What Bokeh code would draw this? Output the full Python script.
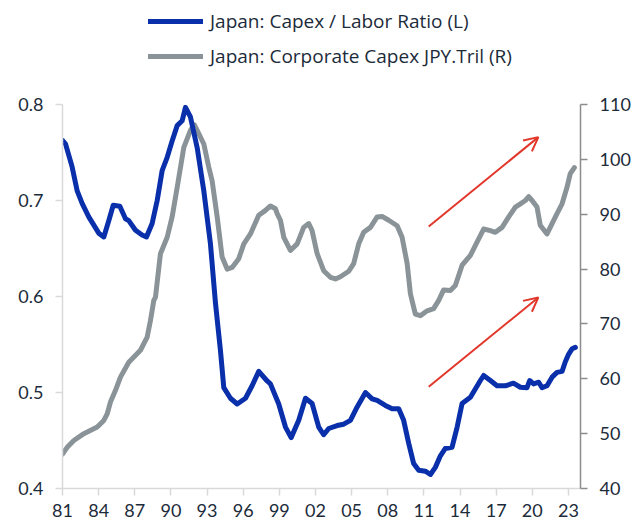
from bokeh.plotting import figure
from bokeh.layouts import column
from bokeh.models import (Range1d, LinearAxis, Legend, LegendItem, Arrow, OpenHead,
                          FixedTicker)
from bokeh.embed import file_html
from bokeh.resources import INLINE

# ---------------- data ----------------
ratio_years = [1981.00, 1981.25, 1981.80, 1982.22, 1982.63, 1983.18, 1984.01, 1984.43, 1984.84,
               1985.21, 1985.76, 1986.23, 1986.50, 1987.06, 1987.61, 1987.97, 1988.44, 1988.86,
               1989.27, 1989.69, 1990.10, 1990.52, 1990.93, 1991.21, 1991.62, 1992.18, 1992.73,
               1993.28, 1993.70, 1994.11, 1994.39, 1994.94, 1995.50, 1996.19, 1996.74, 1997.29,
               1997.99, 1998.26, 1998.95, 1999.51, 1999.98, 2000.61, 2001.17, 2001.72, 2002.27,
               2002.68, 2003.10, 2003.80, 2004.34, 2004.90, 2005.46, 2006.15, 2006.70, 2007.12,
               2007.80, 2008.36, 2008.91, 2009.32, 2009.74, 2010.15, 2010.57, 2011.12, 2011.54,
               2011.95, 2012.37, 2012.78, 2013.34, 2013.76, 2014.17, 2014.86, 2015.69, 2015.96,
               2016.52, 2017.07, 2017.76, 2018.43, 2019.01, 2019.56, 2019.78, 2020.11, 2020.53,
               2020.81, 2021.22, 2021.64, 2022.05, 2022.47, 2022.74, 2023.02, 2023.30, 2023.57]
ratio_values = [0.7625, 0.759, 0.735, 0.710, 0.697, 0.683, 0.666, 0.662, 0.679,
                0.695, 0.694, 0.681, 0.679, 0.669, 0.664, 0.662, 0.676, 0.700,
                0.731, 0.745, 0.762, 0.778, 0.783, 0.797, 0.787, 0.755, 0.710,
                0.655, 0.593, 0.544, 0.505, 0.494, 0.488, 0.494, 0.507, 0.522,
                0.512, 0.509, 0.488, 0.464, 0.453, 0.471, 0.494, 0.4885, 0.464,
                0.456, 0.4625, 0.4656, 0.467, 0.471, 0.485, 0.500, 0.4934, 0.4917,
                0.4865, 0.483, 0.483, 0.471, 0.447, 0.426, 0.419, 0.418, 0.4146,
                0.422, 0.434, 0.4417, 0.443, 0.464, 0.4885, 0.495, 0.5125, 0.5177,
                0.5125, 0.507, 0.507, 0.5097, 0.5055, 0.505, 0.5125, 0.509, 0.5107,
                0.505, 0.507, 0.516, 0.521, 0.522, 0.532, 0.540, 0.5455, 0.547]

capex_years = [1981.00, 1981.39, 1981.94, 1982.77, 1983.88, 1984.43, 1984.71, 1984.98, 1985.40,
               1985.81, 1986.50, 1987.47, 1988.03, 1988.30, 1988.58, 1988.72, 1989.13, 1989.69,
               1990.10, 1990.52, 1991.07, 1991.62, 1991.95, 1992.31, 1992.73, 1993.14, 1993.42,
               1993.84, 1994.25, 1994.67, 1995.08, 1995.63, 1996.05, 1996.60, 1997.29, 1997.85,
               1998.26, 1998.68, 1998.82, 1999.09, 1999.37, 1999.92, 2000.48, 2001.02, 2001.44,
               2001.72, 2002.14, 2002.68, 2003.24, 2003.66, 2004.07, 2004.76, 2005.17, 2005.59,
               2006.00, 2006.56, 2007.12, 2007.53, 2008.08, 2008.78, 2009.19, 2009.61, 2009.88,
               2010.29, 2010.71, 2011.27, 2011.81, 2012.23, 2012.64, 2013.20, 2013.61, 2014.17,
               2014.86, 2015.41, 2015.96, 2016.52, 2016.93, 2017.49, 2018.04, 2018.59, 2019.01,
               2019.42, 2019.70, 2019.98, 2020.39, 2020.66, 2021.22, 2021.64, 2022.05, 2022.47,
               2022.88, 2023.15, 2023.49]
capex_values = [46.3, 47.5, 48.75, 50.0, 51.2, 52.4, 53.6, 55.75, 57.9,
                60.3, 63.0, 65.2, 67.6, 70.6, 74.3, 74.9, 82.8, 85.8,
                89.5, 94.9, 102.2, 105.3, 106.3, 104.7, 102.8, 98.6, 96.1,
                89.5, 82.2, 80.0, 80.3, 81.9, 84.6, 86.4, 89.8, 90.7,
                91.5, 91.0, 90.1, 88.9, 85.8, 83.4, 84.6, 87.6, 88.3,
                87.0, 82.8, 79.7, 78.5, 78.2, 78.6, 79.6, 81.0, 84.6,
                86.7, 87.6, 89.5, 89.6, 88.9, 87.9, 85.8, 81.0, 75.5,
                71.8, 71.5, 72.4, 72.8, 74.3, 76.2, 76.1, 77.0, 80.7,
                82.5, 84.9, 87.3, 87.0, 86.7, 87.6, 89.5, 91.3, 91.9,
                92.5, 93.2, 92.5, 91.3, 88.0, 86.4, 88.3, 90.1, 91.9,
                94.9, 97.4, 98.5]

x_tick_years = [1981, 1984, 1987, 1990, 1993, 1996, 1999, 2002, 2005, 2008, 2011, 2014, 2017, 2020, 2023]
x_tick_labels = ["81", "84", "87", "90", "93", "96", "99", "02", "05", "08", "11", "14", "17", "20", "23"]
left_ticks = [0.4, 0.5, 0.6, 0.7, 0.8]
left_tick_labels = ["0.4", "0.5", "0.6", "0.7", "0.8"]
right_ticks = [40, 50, 60, 70, 80, 90, 100, 110]
right_tick_labels = ["40", "50", "60", "70", "80", "90", "100", "110"]

# trend arrows (annotation): start/end year and left-axis value
arrow_x_start = [2011.4, 2011.4]
arrow_y_start = [0.673, 0.506]
arrow_x_end = [2020.5, 2020.5]
arrow_y_end = [0.766, 0.599]

labels = ["Japan: Capex / Labor Ratio (L)", "Japan: Corporate Capex JPY.Tril (R)"]

BLUE = "#0a2faa"
GREY = "#8a9398"
RED = "#e2372b"
TEXT = "#1c2b3a"
TICK_FONT = "Lato"
TICK_SIZE = "18px"

# ---------------- legend strip (own small figure above the chart) ----------------
lg = figure(width=639, height=70, output_backend="svg", toolbar_location=None,
            x_axis_location=None, y_axis_location=None,
            x_range=Range1d(0, 1), y_range=Range1d(0, 1),
            min_border=0, min_border_left=0, min_border_right=0,
            min_border_top=0, min_border_bottom=0, outline_line_color=None,
            background_fill_color="white", border_fill_color="white")
lg.xgrid.visible = False
lg.ygrid.visible = False
# legend key lines: the two series, drawn outside this strip's visible range
lg_blue = lg.line(ratio_years, ratio_values, line_color=BLUE, line_width=5, line_cap="round")
lg_grey = lg.line(capex_years, capex_values, line_color=GREY, line_width=5, line_cap="round")
legend = Legend(items=[LegendItem(label=labels[0], renderers=[lg_blue]),
                       LegendItem(label=labels[1], renderers=[lg_grey])],
                orientation="vertical", location=(86, 0),
                glyph_width=55, glyph_height=28, label_height=28, label_standoff=7,
                spacing=7, padding=0, margin=0,
                label_text_font="Open Sans", label_text_font_size="19px",
                label_text_color=TEXT, border_line_color=None, background_fill_alpha=0)
lg.add_layout(legend, "center")

# ---------------- main chart ----------------
p = figure(width=639, height=453, output_backend="svg", toolbar_location=None,
           x_range=Range1d(1981, 2024), y_range=Range1d(0.4, 0.8),
           min_border_left=62, min_border_right=59, min_border_top=34, min_border_bottom=35,
           outline_line_color=None, background_fill_color="white", border_fill_color="white")
p.extra_y_ranges = {"r": Range1d(40, 110)}
p.xgrid.visible = False
p.ygrid.visible = False

def style_axis(ax, line_color):
    ax.axis_line_color = line_color
    ax.axis_line_width = 1.5
    ax.major_tick_line_color = line_color
    ax.major_tick_line_width = 1.5
    ax.major_tick_out = 7
    ax.major_tick_in = 0
    ax.minor_tick_line_color = None
    ax.major_label_text_font = TICK_FONT
    ax.major_label_text_font_size = TICK_SIZE
    ax.major_label_text_color = TEXT

xa = p.xaxis[0]
xa.ticker = FixedTicker(ticks=x_tick_years)
xa.major_label_overrides = {y: l for y, l in zip(x_tick_years, x_tick_labels)}
style_axis(xa, "#d9d9d9")
xa.major_label_standoff = 8

ya = p.yaxis[0]
ya.ticker = FixedTicker(ticks=left_ticks)
ya.major_label_overrides = {t: l for t, l in zip(left_ticks, left_tick_labels)}
style_axis(ya, "#d9d9d9")
ya.major_label_standoff = 12

ra = LinearAxis(y_range_name="r", ticker=FixedTicker(ticks=right_ticks))
ra.major_label_overrides = {t: l for t, l in zip(right_ticks, right_tick_labels)}
style_axis(ra, "#8c8c8c")
ra.major_label_standoff = 12
p.add_layout(ra, "right")

r_grey = p.line(capex_years, capex_values, y_range_name="r", line_color=GREY, line_width=5,
                line_join="round", line_cap="round")
r_blue = p.line(ratio_years, ratio_values, line_color=BLUE, line_width=5,
                line_join="round", line_cap="round")

for xs, ys, xe, ye in zip(arrow_x_start, arrow_y_start, arrow_x_end, arrow_y_end):
    p.add_layout(Arrow(end=OpenHead(size=14, line_color=RED, line_width=2),
                       x_start=xs, y_start=ys, x_end=xe, y_end=ye,
                       line_color=RED, line_width=2))

layout = column(lg, p, spacing=0)
open("out.html", "w").write(file_html(layout, INLINE))
